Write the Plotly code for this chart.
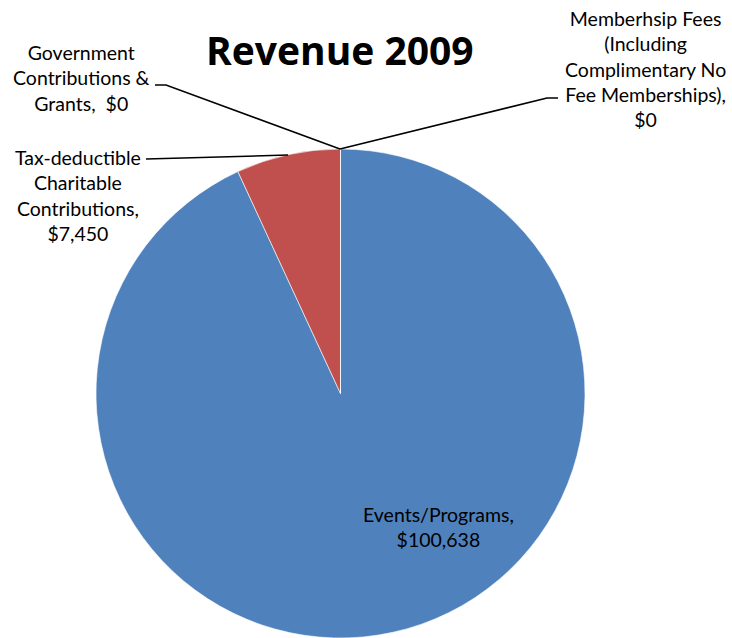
import plotly.graph_objects as go

# ---- data ----
categories = [
    "Memberhsip Fees (Including Complimentary No Fee Memberships)",
    "Events/Programs",
    "Tax-deductible Charitable Contributions",
    "Government Contributions & Grants",
]
values = [0, 100638, 7450, 0]
colors = ["#9BBB59", "#4F81BD", "#C0504D", "#8064A2"]
label_lines = [
    ["Memberhsip Fees", "(Including", "Complimentary No", "Fee Memberships),"],
    ["Events/Programs,"],
    ["Tax-deductible", "Charitable", "Contributions,"],
    ["Government", "Contributions &", "Grants, "],
]
title_text = "Revenue 2009"

W, H = 732, 638

def px(x, y):
    return x / W, 1 - y / H

fig = go.Figure()
fig.add_trace(go.Pie(
    labels=categories,
    values=values,
    sort=False,
    direction="clockwise",
    rotation=0,
    marker=dict(colors=colors, line=dict(color="white", width=0.6)),
    textinfo="none",
    hoverinfo="label+value",
    showlegend=False,
    domain=dict(x=[96 / W, 585 / W], y=[0, 1 - 149 / H]),
))

def fmt(v):
    return "${:,}".format(v)

label_font = dict(family="Lato", size=19.5, color="black")
# label anchor centres (pixel positions)
label_pos = [(645, 69), (438, 527), (78, 195), (81, 78)]
annotations = []
for lines, v, (lx, ly) in zip(label_lines, values, label_pos):
    text = "<br>".join(lines[:-1] + [lines[-1] + " " + fmt(v)] if len(lines[-1]) < 10 else lines + [fmt(v)])
    x, y = px(lx, ly)
    annotations.append(dict(text=text, x=x, y=y, xref="paper", yref="paper",
                            xanchor="center", yanchor="middle", showarrow=False,
                            font=label_font, align="center"))
x, y = px(340, 50)
annotations.append(dict(text="<b>" + title_text + "</b>", x=x, y=y, xref="paper", yref="paper",
                        xanchor="center", yanchor="middle", showarrow=False,
                        font=dict(family="Open Sans", size=39, color="black")))

def path(points):
    s = ""
    for i, (a, b) in enumerate(points):
        xx, yy = px(a, b)
        s += ("M" if i == 0 else "L") + f"{xx},{yy} "
    return s

leaders = [
    [(558, 98), (547, 98), (340, 149)],
    [(146, 159), (288, 155)],
    [(155, 85), (166, 85), (340, 149)],
]
shapes = [dict(type="path", path=path(p), xref="paper", yref="paper",
               line=dict(color="black", width=1.5)) for p in leaders]

fig.update_layout(
    width=W, height=H,
    margin=dict(l=0, r=0, t=0, b=0),
    paper_bgcolor="white",
    plot_bgcolor="white",
    annotations=annotations,
    shapes=shapes,
)

fig.write_html("out.html", config={"displayModeBar": False},
               post_script="document.body.style.margin='0';document.body.style.overflow='hidden';")
